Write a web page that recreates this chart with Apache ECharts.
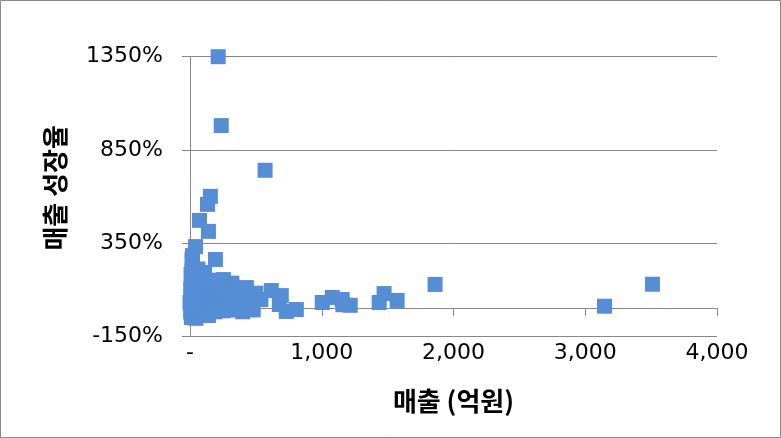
<!DOCTYPE html>
<html>
<head>
<meta charset="utf-8">
<script src="https://cdn.jsdelivr.net/npm/echarts@6/dist/echarts.min.js"></script>
<style>
html,body{margin:0;padding:0;background:#fff;}
#chart{width:781px;height:438px;}
</style>
</head>
<body>
<div id="chart"></div>
<script>
// Sales (억원) values
var salesX = [214,237,570,155,133,72,140,42,19,15,193,110,254,318,428,178,617,693,678,538,731,807,
  1004,1080,1155,1216,1160,1436,1473,1572,1860,3146,3510,
  11,0,11,125,212,330,443,20,40,60,80,30,50,90,100,120,150,170,200,230,260,280,300,350,380,400,420,460,
  30,60,90,10,45,70,140,160,190,250,290,360,400,5,25,15,130,210,240,270,320,470,500,480,8,12,5,10];
// Sales growth rate (%) values
var growthY = [1350,980,740,600,557,471,412,330,282,262,261,191,153,134,110,94,94,67,19,46,-18,-8,
  30,57,46,15,18,30,78,41,127,10,128,
  124,30,-51,-24,-5,0,-5,60,90,20,-30,-10,150,120,60,30,80,50,110,70,40,90,60,30,70,100,20,50,
  180,210,160,-40,-55,5,-40,10,-20,-15,20,-10,-20,100,40,200,130,150,10,-10,80,20,80,-10,180,150,-20,0];
var xTicks = [0,1000,2000,3000,4000];
var yTicks = [-150,350,850,1350];
var xTitle = '매출 (억원)';
var yTitle = '매출 성장율';

var points = salesX.map(function(x,i){return [x, growthY[i]];});
var chart = echarts.init(document.getElementById('chart'));
var labelFont = 'DejaVu Sans';
chart.setOption({
  animation:false,
  backgroundColor:'#fff',
  grid:{left:190, right:64, top:56.7, bottom:102, containLabel:false},
  graphic:[{type:'rect', shape:{x:0.5,y:0.5,width:780,height:437}, style:{fill:'none', stroke:'#878787', lineWidth:1}, silent:true}],
  xAxis:{
    type:'value', min:xTicks[0], max:xTicks[xTicks.length-1], interval:1000,
    axisLine:{show:true, lineStyle:{color:'#878787', width:1}},
    axisTick:{show:true, inside:false, length:8, lineStyle:{color:'#878787'}},
    splitLine:{show:false},
    axisLabel:{fontSize:22, fontFamily:labelFont, color:'#000', margin:6,
      formatter:function(v){return v===0?'-':v.toLocaleString('en-US');}},
    name:xTitle, nameLocation:'middle', nameGap:52,
    nameTextStyle:{fontSize:26, fontWeight:'bold', color:'#000', fontFamily:'Noto Sans CJK KR'}
  },
  yAxis:{
    type:'value', min:yTicks[0], max:yTicks[yTicks.length-1], interval:500,
    axisLine:{show:true, onZero:false, lineStyle:{color:'#878787', width:1}},
    axisTick:{show:true, inside:false, length:8, lineStyle:{color:'#878787'}},
    splitLine:{show:true, lineStyle:{color:'#878787', width:1}},
    axisLabel:{fontSize:22, fontFamily:labelFont, color:'#000', margin:27,
      formatter:function(v){return v+'%';}},
    name:yTitle, nameLocation:'middle', nameGap:122, nameRotate:90,
    nameTextStyle:{fontSize:26, fontWeight:'bold', color:'#000', fontFamily:'Noto Sans CJK KR', padding:[0,0,0,17]}
  },
  series:[{
    type:'scatter', symbol:'rect', symbolSize:15, clip:false,
    itemStyle:{color:'#558ED5', opacity:1},
    data:points
  }]
});
</script>
</body>
</html>
